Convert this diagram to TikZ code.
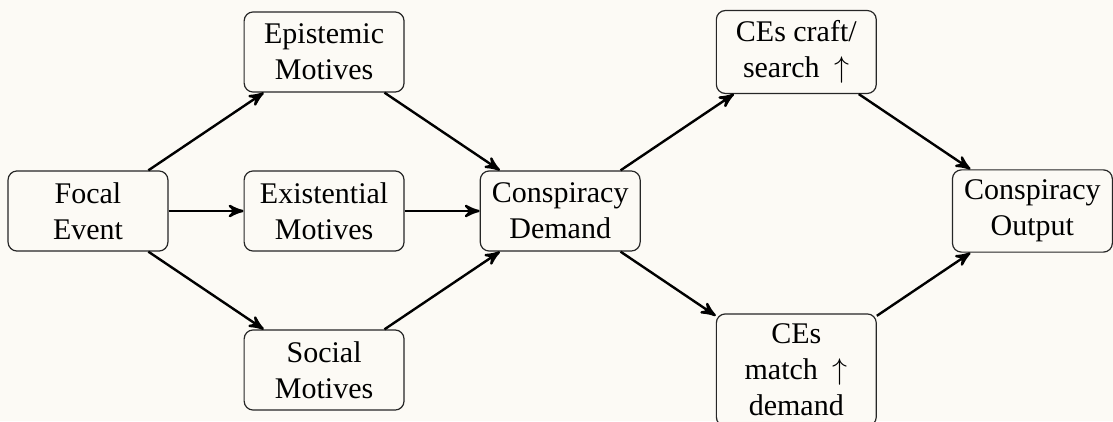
\documentclass[tikz,border=0pt]{standalone}
\usepackage{fontspec}
\setmainfont{Liberation Serif}
\usepackage{xcolor}
\usepackage{tikz}
\usetikzlibrary{arrows}
\definecolor{bgcream}{HTML}{FCFAF5}
\tikzstyle{block} = [rectangle,draw=black!85,line width=0.4pt,fill=bgcream,rounded corners=3pt,align=center,minimum height=26.7pt,minimum width=53.3pt]

\begin{document}
\begin{tikzpicture}[auto,node distance = 53pt,>=stealth']
    % background and page size
    \fill[bgcream] (0,0) rectangle (371pt,140.33pt);
    \useasboundingbox (0,0) rectangle (371pt,140.33pt);
    % We start by placing the blocks
    \node [block] (focal) at (29.33pt,70pt) {Focal\\Event};
    \node [block, right of=focal, xshift=25.7pt] (exi) {Existential\\Motives};
    \node [block, above of=exi] (epi) {Epistemic\\Motives};
    \node [block, below of=exi] (soc) {Social\\Motives};
    \node [block, right of=exi, xshift=25.7pt] (demand) {Conspiracy\\Demand};
    \node [block, above of=demand, xshift=78.7pt] (craft) {CEs craft/\\search\enspace$\uparrow$};
    \node [block, below of=demand, xshift=78.7pt] (match) {CEs\\match\enspace$\uparrow$\\demand};
    \node [block, right of=demand, xshift=104.4pt] (output) {Conspiracy\\Output};

    % Once the nodes are placed, connecting them is easy.
    \draw [->, line width=0.8pt] (focal) -- (epi);
    \draw [->, line width=0.8pt] (focal) -- (exi);
    \draw [->, line width=0.8pt] (focal) -- (soc);
    \draw [->, line width=0.8pt] (epi) -- (demand);
    \draw [->, line width=0.8pt] (exi) -- (demand);
    \draw [->, line width=0.8pt] (soc) -- (demand);
    \draw [->, line width=0.8pt] (demand) -- (craft);
    \draw [->, line width=0.8pt] (demand) -- (match);
    \draw [->, line width=0.8pt] (craft) -- (output);
    \draw [->, line width=0.8pt] (match) -- (output);
\end{tikzpicture}
\end{document}
